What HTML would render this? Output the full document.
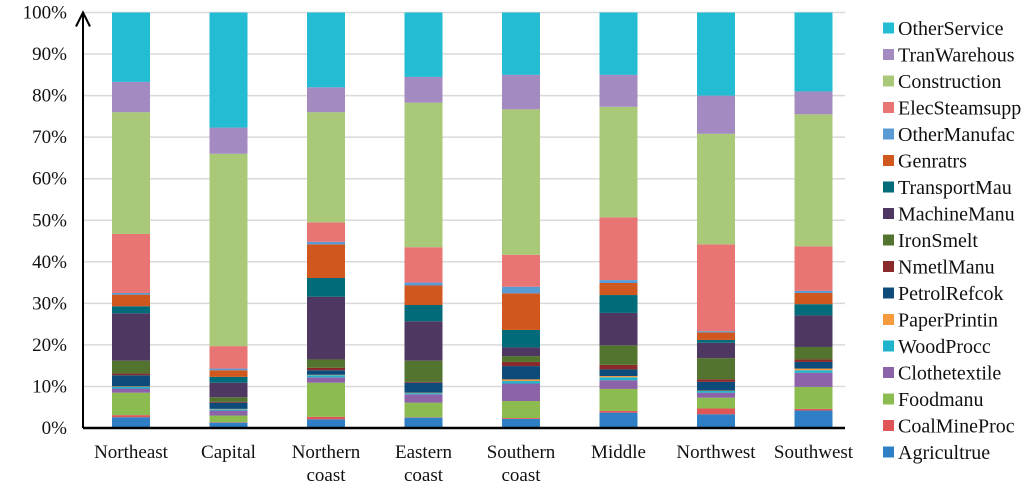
<!DOCTYPE html>
<html><head><meta charset="utf-8"><style>
body{margin:0;background:#fff;}
svg text{font-family:"Liberation Serif",serif;font-size:19px;fill:#111;}
svg text.leg{font-size:20px;}
</style></head><body>
<svg id="chart" width="1024" height="492"></svg>
<script>
const categories=[["Northeast"],["Capital"],["Northern","coast"],["Eastern","coast"],["Southern","coast"],["Middle"],["Northwest"],["Southwest"]];
const seriesNames=["Agricultrue","CoalMineProc","Foodmanu","Clothetextile","WoodProcc","PaperPrintin","PetrolRefcok","NmetlManu","IronSmelt","MachineManu","TransportMau","Genratrs","OtherManufac","ElecSteamsupp","Construction","TranWarehous","OtherService"];
const agri=[2.6,1.3,2.1,2.5,2.2,3.7,3.3,4.2];
const coal=[0.5,0.1,0.6,0.1,0.2,0.4,1.4,0.4];
const food=[5.4,1.6,8.2,3.5,4.1,5.3,2.6,5.3];
const clothe=[1.0,1.2,1.3,2.0,4.2,2.1,1.2,3.4];
const wood=[0.4,0.3,0.5,0.3,0.6,0.7,0.4,0.6];
const paper=[0.1,0.1,0.1,0.1,0.4,0.3,0.1,0.4];
const petrol=[2.7,1.5,1.1,2.4,3.2,1.6,2.1,1.6];
const nmetl=[0.4,0.2,0.6,0.2,1.0,1.1,0.6,0.6];
const iron=[3.1,1.1,2.0,5.1,1.4,4.7,5.1,3.0];
const machine=[11.4,3.5,15.1,9.5,2.1,7.8,3.7,7.6];
const transport=[1.7,1.4,4.5,3.9,4.2,4.3,0.7,2.7];
const genr=[2.8,1.6,8.1,4.7,8.8,2.9,1.8,2.7];
const otherManu=[0.4,0.4,0.6,0.7,1.6,0.7,0.3,0.5];
const elec=[14.2,5.4,4.7,8.5,7.7,15.1,20.9,10.7];
const constr=[29.3,46.3,26.5,34.8,35.0,26.6,26.6,31.8];
const tranW=[7.3,6.3,6.0,6.2,8.3,7.7,9.2,5.5];
const otherServ=[16.7,27.7,18.0,15.5,15.0,15.0,20.0,19.0];
const yTicks=["0%","10%","20%","30%","40%","50%","60%","70%","80%","90%","100%"];
const series=[agri,coal,food,clothe,wood,paper,petrol,nmetl,iron,machine,transport,genr,otherManu,elec,constr,tranW,otherServ];
const colors=["#2e7fc5","#e05555","#8cbc4f","#8c62a8","#1fb3cc","#f79a3c","#0d4c7a","#8b2a2a","#52742e","#4e3761","#026b7a","#d0581e","#5b9bd5","#e87474","#a9c978","#a38bc2","#23bcd2"];
const NS="http://www.w3.org/2000/svg";
const svg=document.getElementById('chart');
const x0=83,x1=845,yTop=12.5,yBot=428;
function y(p){return yBot-(yBot-yTop)*p/100;}
function xc(i){return 131+i*97.5;}
function mk(t,a){const e=document.createElementNS(NS,t);for(const k in a)e.setAttribute(k,a[k]);svg.appendChild(e);return e;}
yTicks.forEach((t,i)=>{
  const v=i*10;
  if(i>0){const g=mk('line',{x1:x0,x2:x1,y1:y(v),y2:y(v),stroke:'#d9d9d9','stroke-width':1.5});
  
  }
  const tx=mk('text',{x:67,y:y(v)+6,'text-anchor':'end'});tx.textContent=t;
  
  
});
categories.forEach((c,i)=>{
  let cum=0;
  series.forEach((s,j)=>{
    const v=s[i];
    const r=mk('rect',{x:xc(i)-19,width:38,y:y(cum+v),height:y(cum)-y(cum+v),fill:colors[j]});
    
    
    cum+=v;
  });
  c.forEach((l,k)=>{const t=mk('text',{x:xc(i),y:458+k*23,'text-anchor':'middle'});t.textContent=l;
  
  });
});
const ax=mk('line',{x1:x0,x2:x1,y1:yBot,y2:yBot,stroke:'#000','stroke-width':2.5});


const ay=mk('line',{x1:x0,x2:x0,y1:yBot,y2:yTop,stroke:'#000','stroke-width':2});


const ar=mk('path',{d:`M${x0-7},${yTop+14} L${x0},${yTop} L${x0+7},${yTop+14}`,fill:'none',stroke:'#000','stroke-width':2});


for(let j=16;j>=0;j--){
  const k=16-j, ly=28+k*26.5;
  const sw=mk('rect',{x:883,y:ly-5.5,width:11,height:11,fill:colors[j]});
  
  
  const t=mk('text',{x:898,y:ly+7,class:'leg'});t.textContent=seriesNames[j];
  
  
}
</script>
</body></html>
